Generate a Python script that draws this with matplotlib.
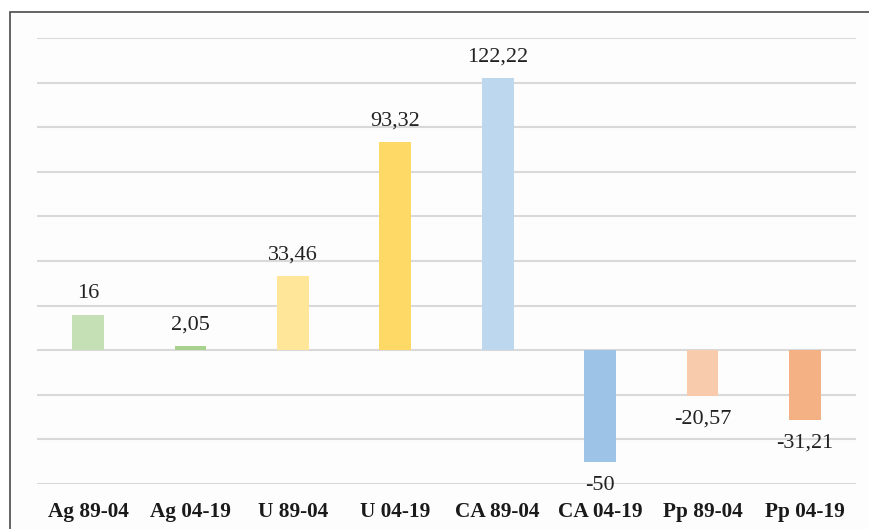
import matplotlib
matplotlib.use("Agg")
import matplotlib.pyplot as plt
from matplotlib.patches import Rectangle

# Change (%) per land-use class and period
categories = ["Ag 89-04", "Ag 04-19", "U 89-04", "U 04-19",
              "CA 89-04", "CA 04-19", "Pp 89-04", "Pp 04-19"]
values = [16, 2.05, 33.46, 93.32, 122.22, -50, -20.57, -31.21]
labels = ["16", "2,05", "33,46", "93,32", "122,22", "-50", "-20,57", "-31,21"]
colors = ["#c5e0b4", "#a9d18e", "#ffe699", "#ffd966",
          "#bdd7ee", "#9dc3e6", "#f8cbad", "#f4b183"]
grid_ticks = [-60, -40, -20, 0, 20, 40, 60, 80, 100, 120, 140]

plt.rcParams['font.family'] = ['Liberation Serif', 'DejaVu Serif']

fig = plt.figure(figsize=(8.7, 5.29), dpi=100)
fig.patch.set_facecolor("white")

# outer chart frame, open at right and bottom edges
frame = Rectangle((10 / 870, -0.1), 1.2, 1 - 12 / 529 + 0.1,
                  transform=fig.transFigure, facecolor="#fdfdfd",
                  edgecolor="#4a4a4a", linewidth=1.2, zorder=-1)
fig.patches.append(frame)

ax = fig.add_axes([37 / 870, 1 - 484 / 529, (856 - 37) / 870, (484 - 38) / 529])
ax.set_facecolor("none")

x = list(range(len(categories)))
ax.bar(x, values, width=0.31, color=colors, zorder=3)

for xi, v, lab in zip(x, values, labels):
    if v >= 0:
        ax.annotate(lab, (xi, v), xytext=(0, 8), textcoords="offset points",
                    ha="center", va="bottom", fontsize=16, color="#222222")
    else:
        ax.annotate(lab, (xi, v), xytext=(0, -10), textcoords="offset points",
                    ha="center", va="top", fontsize=16, color="#222222")

ax.set_xlim(-0.5, len(categories) - 0.5)
ax.set_ylim(-60, 140)
ax.set_yticks(grid_ticks)
ax.set_yticklabels([])
ax.tick_params(axis="y", length=0)
ax.grid(axis="y", color="#d9d9d9", linewidth=1.5, zorder=1)
ax.set_axisbelow(True)

ax.set_xticks(x)
ax.set_xticklabels(categories, fontsize=15.3, fontweight="bold", color="#1a1a1a")
ax.tick_params(axis="x", length=0, pad=13)

for s in ax.spines.values():
    s.set_visible(False)

fig.savefig("out.png", dpi=100)
